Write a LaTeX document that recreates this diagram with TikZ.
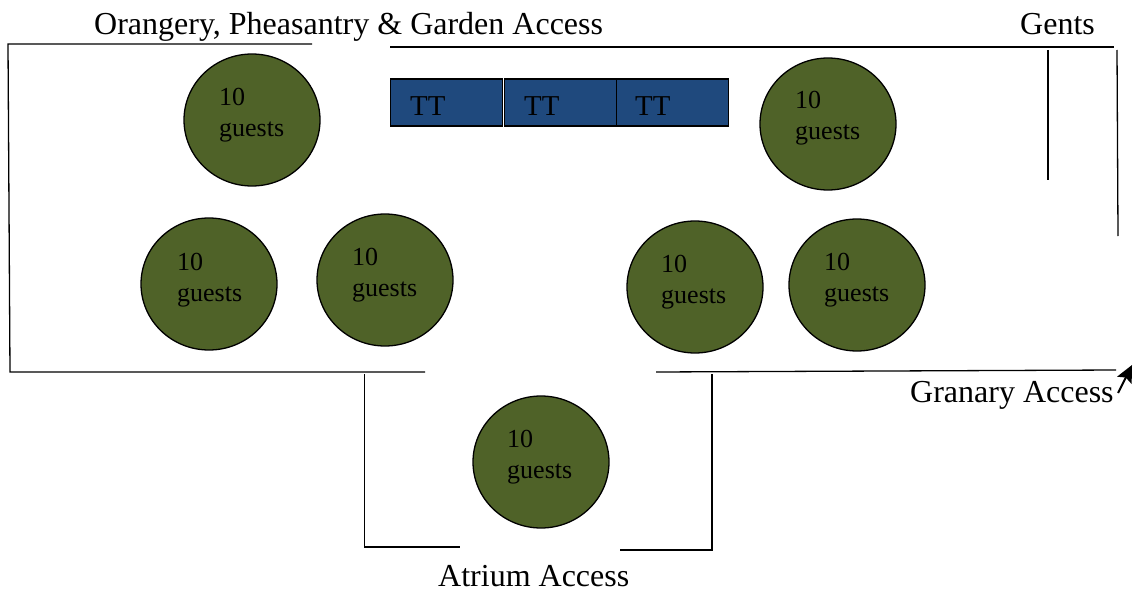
\documentclass[tikz,border=0pt]{standalone}
\usepackage{fontspec}
\setmainfont{Liberation Serif}
\usetikzlibrary{arrows.meta,shapes.geometric}
\definecolor{tbl}{HTML}{4F6228}
\definecolor{tt}{HTML}{1F497D}
\tikzset{x=1pt,y=-1pt,
 wall/.style={draw=black,line width=1.3pt},
 round table/.style={ellipse,draw=black,line width=1.3pt,fill=tbl,minimum width=136pt,minimum height=132pt,inner sep=0pt},
 guests/.style={font=\fontsize{26pt}{31pt}\selectfont,align=left,anchor=north west,inner sep=0pt,text=black},
 headtable/.style={rectangle,draw=black,line width=1.6pt,fill=tt,minimum height=47.5pt,anchor=north west,inner sep=0pt},
 ttlabel/.style={font=\fontsize{28.8pt}{32pt}\selectfont,inner sep=0pt,anchor=west},
 lab/.style={font=\fontsize{32pt}{36pt}\selectfont,inner sep=0pt,anchor=base west}}
\begin{document}
\begin{tikzpicture}
\useasboundingbox (0,0) rectangle (1137,591);
% walls
\coordinate (a1) at (312,44); \coordinate (a2) at (8,44); \coordinate (a3) at (10,372); \coordinate (a4) at (425,372);
\draw[wall] (a1) -- (a2) -- (a3) -- (a4);
\coordinate (b1) at (390,47); \coordinate (b2) at (1114,47);
\draw[wall] (b1) -- (b2);
\coordinate (c1) at (1048,50); \coordinate (c2) at (1048,180);
\draw[wall] (c1) -- (c2);
\coordinate (d1) at (1117,50); \coordinate (d2) at (1118,236);
\draw[wall] (d1) -- (d2);
\coordinate (e1) at (656,372); \coordinate (e2) at (1116,370);
\draw[wall] (e1) -- (e2);
\coordinate (f1) at (364.5,374); \coordinate (f2) at (364.5,547); \coordinate (f3) at (460,547);
\draw[wall] (f1) -- (f2) -- (f3);
\coordinate (g1) at (712,374); \coordinate (g2) at (712,550); \coordinate (g3) at (620,550);
\draw[wall] (g1) -- (g2) -- (g3);
\coordinate (h1) at (1118,393); \coordinate (h2) at (1132,365);
\draw[line width=2pt,-{Stealth[length=17pt,width=16pt,inset=3pt]}] (h1) -- (h2);
% tables
\foreach \n/\x/\y/\lx/\ly in {t1/252/120/219/88.5, t2/828/124/795/91.5, t3/209/284/177/253.5, t4/385/280/352/248.5, t5/695/287/661/255.5, t6/857/285/824/253.5, t7/541/462/507/430.5}{
 \node[round table] (\n) at (\x,\y) {};
 \node[guests] (\n l) at (\lx,\ly) {10\\guests};
}
% top table
\node[headtable,minimum width=112pt] (tt1) at (389.5,78) {};
\node[headtable,minimum width=112pt] (tt2) at (503.5,78) {};
\node[headtable,minimum width=112pt] (tt3) at (615.5,78) {};
\node[ttlabel] (tl1) at (410,106) {TT};
\node[ttlabel] (tl2) at (524,106) {TT};
\node[ttlabel] (tl3) at (635,106) {TT};
% labels
\node[lab] (l1) at (94,35) {Orangery, Pheasantry \& Garden Access};
\node[lab] (l2) at (1020,35) {Gents};
\node[lab] (l3) at (910,402) {Granary Access};
\node[lab] (l4) at (438,586) {Atrium Access};
\end{tikzpicture}
\end{document}
